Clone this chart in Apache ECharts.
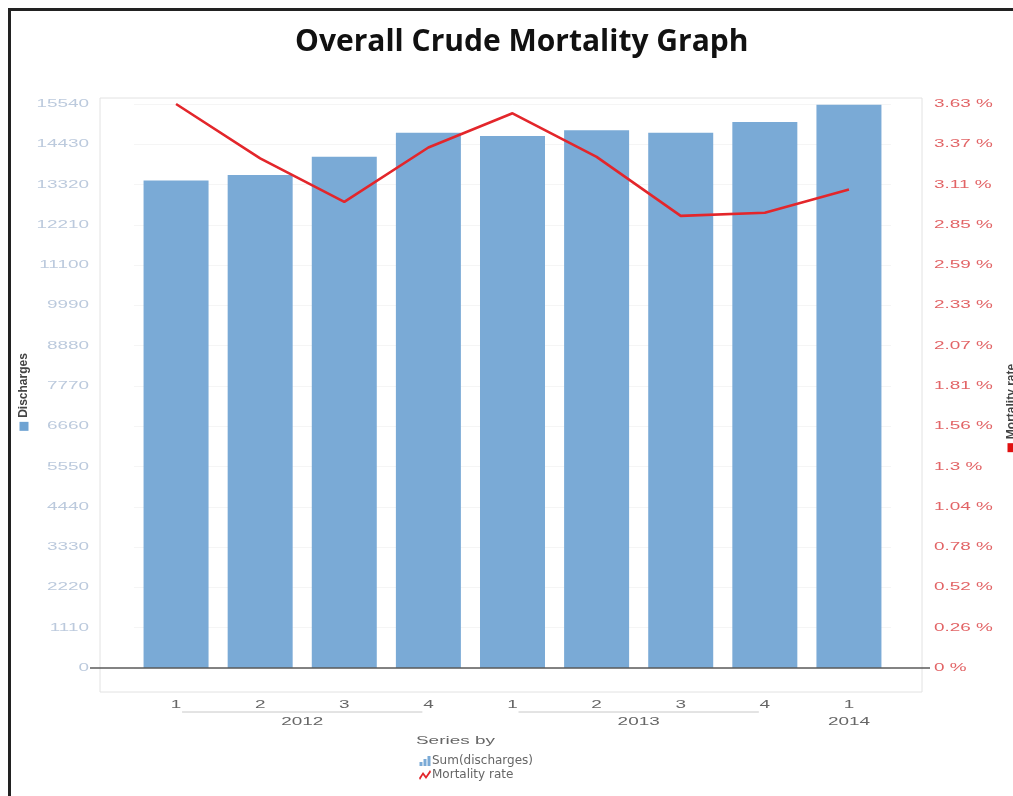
<!DOCTYPE html>
<html><head><meta charset="utf-8">
<script src="https://cdn.jsdelivr.net/npm/echarts@6/dist/echarts.min.js"></script>
<style>html,body{margin:0;padding:0;background:#fff}#c{width:1013px;height:796px}</style>
</head><body><div id="c"></div>
<script>
const quarters = ['1', '2', '3', '4', '1', '2', '3', '4', '1'];
const years = ['2012', '2012', '2012', '2012', '2013', '2013', '2013', '2013', '2014'];
const discharges = [13430, 13585, 14090, 14750, 14660, 14820, 14750, 15045, 15520];
const mortalityRate = [3.63, 3.28, 3.00, 3.35, 3.57, 3.29, 2.91, 2.93, 3.08];
const dischargeTicks = [0, 1110, 2220, 3330, 4440, 5550, 6660, 7770, 8880, 9990, 11100, 12210, 13320, 14430, 15540];
const rateTickLabels = ['0 %', '0.26 %', '0.52 %', '0.78 %', '1.04 %', '1.3 %', '1.56 %', '1.81 %', '2.07 %', '2.33 %', '2.59 %', '2.85 %', '3.11 %', '3.37 %', '3.63 %'];
const rateMax = 3.63;

const categories = quarters.map((q, i) => years[i] + ' Q' + q);
const leftStep = dischargeTicks[1] - dischargeTicks[0];
const leftMax = dischargeTicks[dischargeTicks.length - 1];
const rateStep = rateMax / (rateTickLabels.length - 1);

const FONT = 'Liberation Sans, Arial, sans-serif';
const SX = 1.72; // the source picture's small text is horizontally stretched
const chart = echarts.init(document.getElementById('c'));

const GRID = {left: 134, right: 122, top: 104, bottom: 128};
const FRAME = {x1: 100, x2: 922, y1: 98, y2: 692};

chart.setOption({
  animation: false,
  backgroundColor: '#fff',
  title: [{
    text: 'Overall Crude Mortality Graph',
    left: 290, top: 22,
    textStyle: {fontFamily: 'Open Sans', fontWeight: 'bold', fontSize: 30, color: '#111'}
  }],
  legend: {
    orient: 'vertical', left: 414, top: 750, itemGap: 2,
    itemWidth: 12, itemHeight: 10,
    textStyle: {fontFamily: 'DejaVu Sans', fontSize: 12, color: '#666', padding: [0, 0, 0, -4]},
    data: [
      {name: 'Sum(discharges)', icon: 'path://M0,10L0,6L3,6L3,10Z M4,10L4,3L7,3L7,10Z M8,10L8,0L11,0L11,10Z'},
      {name: 'Mortality rate', icon: 'path://M0,8L4,2L7,6L11,0L12,2L7,9L4,5L1,10Z'}
    ]
  },
  grid: GRID,
  xAxis: {
    type: 'category', data: categories,
    axisLine: {show: false}, axisTick: {show: false}, axisLabel: {show: false}
  },
  yAxis: [{
    type: 'value', min: 0, max: leftMax, interval: leftStep,
    axisLine: {show: false}, axisTick: {show: false}, axisLabel: {show: false},
    splitLine: {lineStyle: {color: '#f5f5f5'}}
  }, {
    type: 'value', min: 0, max: rateMax, interval: rateStep,
    axisLine: {show: false}, axisTick: {show: false}, splitLine: {show: false}, axisLabel: {show: false}
  }],
  series: [{
    name: 'Sum(discharges)', type: 'bar', data: discharges, barWidth: 65,
    itemStyle: {color: '#7aaad6'}, z: 2
  }, {
    name: 'Mortality rate', type: 'line', yAxisIndex: 1, data: mortalityRate,
    symbol: 'none', lineStyle: {color: '#e3262b', width: 2.6}, itemStyle: {color: '#e3262b'}, z: 5
  }]
});

// decorations and tick labels derived from the axes
const g = [];
function txt(x, y, s, align, fill) {
  return {type: 'text', x: x, y: y, scaleX: SX,
    style: {text: s, fill: fill, font: '11px ' + FONT, align: align, verticalAlign: 'middle'}};
}
g.push({type: 'rect', z: -10, shape: {x: FRAME.x1, y: FRAME.y1, width: FRAME.x2 - FRAME.x1, height: FRAME.y2 - FRAME.y1},
  style: {fill: 'none', stroke: '#e2e2e2', lineWidth: 1}});
const y0 = chart.convertToPixel({yAxisIndex: 0}, 0);
g.push({type: 'line', z: 50, shape: {x1: FRAME.x1 - 10, y1: y0, x2: FRAME.x2 + 8, y2: y0},
  style: {stroke: '#5a5a5a', lineWidth: 1.5}});
g.push({type: 'rect', z: 100, shape: {x: 9.5, y: 9.5, width: 1100, height: 900},
  style: {fill: 'none', stroke: '#222', lineWidth: 3}});
dischargeTicks.forEach(v => {
  g.push(txt(89, chart.convertToPixel({yAxisIndex: 0}, v), String(v), 'right', '#bccadd'));
});
rateTickLabels.forEach((t, i) => {
  g.push(txt(934, chart.convertToPixel({yAxisIndex: 1}, i * rateStep), t, 'left', '#e26466'));
});
quarters.forEach((q, i) => {
  g.push(txt(chart.convertToPixel({xAxisIndex: 0}, i), y0 + 37, q, 'center', '#666'));
});
let start = 0;
for (let i = 1; i <= years.length; i++) {
  if (i === years.length || years[i] !== years[start]) {
    const xa = chart.convertToPixel({xAxisIndex: 0}, start);
    const xb = chart.convertToPixel({xAxisIndex: 0}, i - 1);
    if (i - 1 > start) {
      g.push({type: 'line', shape: {x1: xa + 6, y1: y0 + 44, x2: xb - 6, y2: y0 + 44},
        style: {stroke: '#c8c8c8', lineWidth: 1}});
    }
    g.push(txt((xa + xb) / 2, y0 + 54, years[start], 'center', '#666'));
    start = i;
  }
}
g.push(txt(416, 741, 'Series by', 'left', '#666'));
g.push({type: 'text', x: 24, y: 392, rotation: Math.PI / 2,
  style: {text: '{sq|}{t|Discharges}', align: 'center', verticalAlign: 'middle',
    rich: {sq: {width: 9, height: 9, backgroundColor: '#6fa3d2'},
      t: {fontFamily: 'Liberation Sans Narrow, ' + FONT, fontWeight: 'bold', fontSize: 12, fill: '#444', padding: [0, 0, 0, 4]}}}});
g.push({type: 'text', x: 1012, y: 408, rotation: Math.PI / 2,
  style: {text: '{sq|}{t|Mortality rate}', align: 'center', verticalAlign: 'middle',
    rich: {sq: {width: 9, height: 9, backgroundColor: '#e01010'},
      t: {fontFamily: 'Liberation Sans Narrow, ' + FONT, fontWeight: 'bold', fontSize: 12, fill: '#444', padding: [0, 0, 0, 4]}}}});
chart.setOption({graphic: g});
</script></body></html>
